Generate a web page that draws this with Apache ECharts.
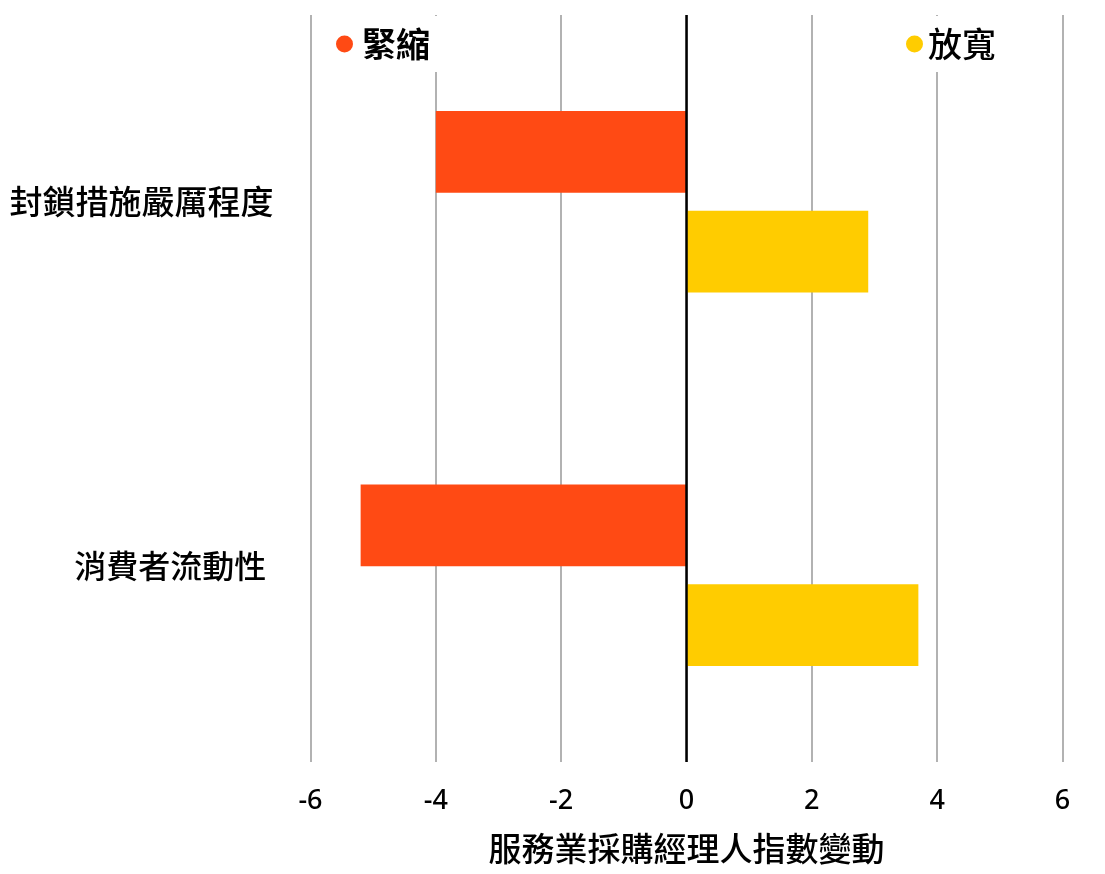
<!DOCTYPE html>
<html>
<head>
<meta charset="utf-8">
<script src="https://cdn.jsdelivr.net/npm/echarts@6/dist/echarts.min.js"></script>
<style>
html,body{margin:0;padding:0;background:#fff;}
#chart{width:1105px;height:874px;}
</style>
</head>
<body>
<div id="chart"></div>
<script>
const categories = ['封鎖措施嚴厲程度', '消費者流動性 '];
const tighten = [-4.0, -5.2];
const loosen = [2.9, 3.7];
const xTicks = [-6, -4, -2, 0, 2, 4, 6];
const seriesNames = ['緊縮', '放寬'];
const axisName = '服務業採購經理人指數變動';

const FONT = "'Noto Sans CJK TC', 'Noto Sans', sans-serif";
const RED = '#FF4A14';
const YEL = '#FFCC00';

const chart = echarts.init(document.getElementById('chart'));
chart.setOption({
  backgroundColor: '#fff',
  animation: false,
  textStyle: { fontFamily: FONT, color: '#000' },
  grid: { left: 310.5, right: 42.5, top: 15, bottom: 112, containLabel: false },
  legend: [
    {
      data: [{ name: seriesNames[0], icon: 'circle' }],
      left: 326, top: 16,
      itemWidth: 25, itemHeight: 17,
      padding: [11, 14, 11, 10],
      backgroundColor: '#fff',
      textStyle: { fontSize: 34, fontWeight: 'bold', color: '#000', fontFamily: FONT }
    },
    {
      data: [{ name: seriesNames[1], icon: 'circle' }],
      left: 896, top: 16,
      itemWidth: 17, itemHeight: 17,
      padding: [11, 10, 11, 10],
      backgroundColor: '#fff',
      textStyle: { fontSize: 34, fontWeight: 500, color: '#000', fontFamily: FONT }
    }
  ],
  xAxis: {
    type: 'value',
    min: xTicks[0], max: xTicks[xTicks.length - 1], interval: 2,
    name: axisName,
    nameLocation: 'middle',
    nameGap: 70,
    nameTextStyle: { fontSize: 33, fontWeight: 500, color: '#000', fontFamily: FONT },
    axisLine: { show: false },
    axisTick: { show: false },
    axisLabel: { fontSize: 27, fontWeight: 500, color: '#000', margin: 26, fontFamily: "'Noto Sans', sans-serif" },
    splitLine: { show: true, lineStyle: { color: '#999', width: 1.5 } }
  },
  yAxis: {
    type: 'category',
    inverse: true,
    data: categories,
    axisLine: { show: false },
    axisTick: { show: false },
    splitLine: { show: false },
    axisLabel: {
      fontSize: 33, fontWeight: 500, color: '#000', margin: 37, fontFamily: FONT,
      formatter: function (v, i) { return i === 1 ? '{up|' + v + '}' : v; },
      rich: {
        up: { fontSize: 32, fontWeight: 500, color: '#000', fontFamily: FONT, padding: [0, 0, 18, 0] }
      }
    }
  },
  series: [
    {
      name: seriesNames[0], type: 'bar', data: tighten,
      barWidth: 81.7, barGap: '22%',
      itemStyle: { color: RED },
      z: 2,
      markLine: {
        silent: true, symbol: 'none', label: { show: false },
        lineStyle: { color: '#000', width: 2.5, type: 'solid' },
        data: [{ xAxis: 0 }],
        z: 5
      }
    },
    {
      name: seriesNames[1], type: 'bar', data: loosen,
      barWidth: 81.7, barGap: '22%',
      itemStyle: { color: YEL },
      z: 2
    }
  ]
});
</script>
</body>
</html>
